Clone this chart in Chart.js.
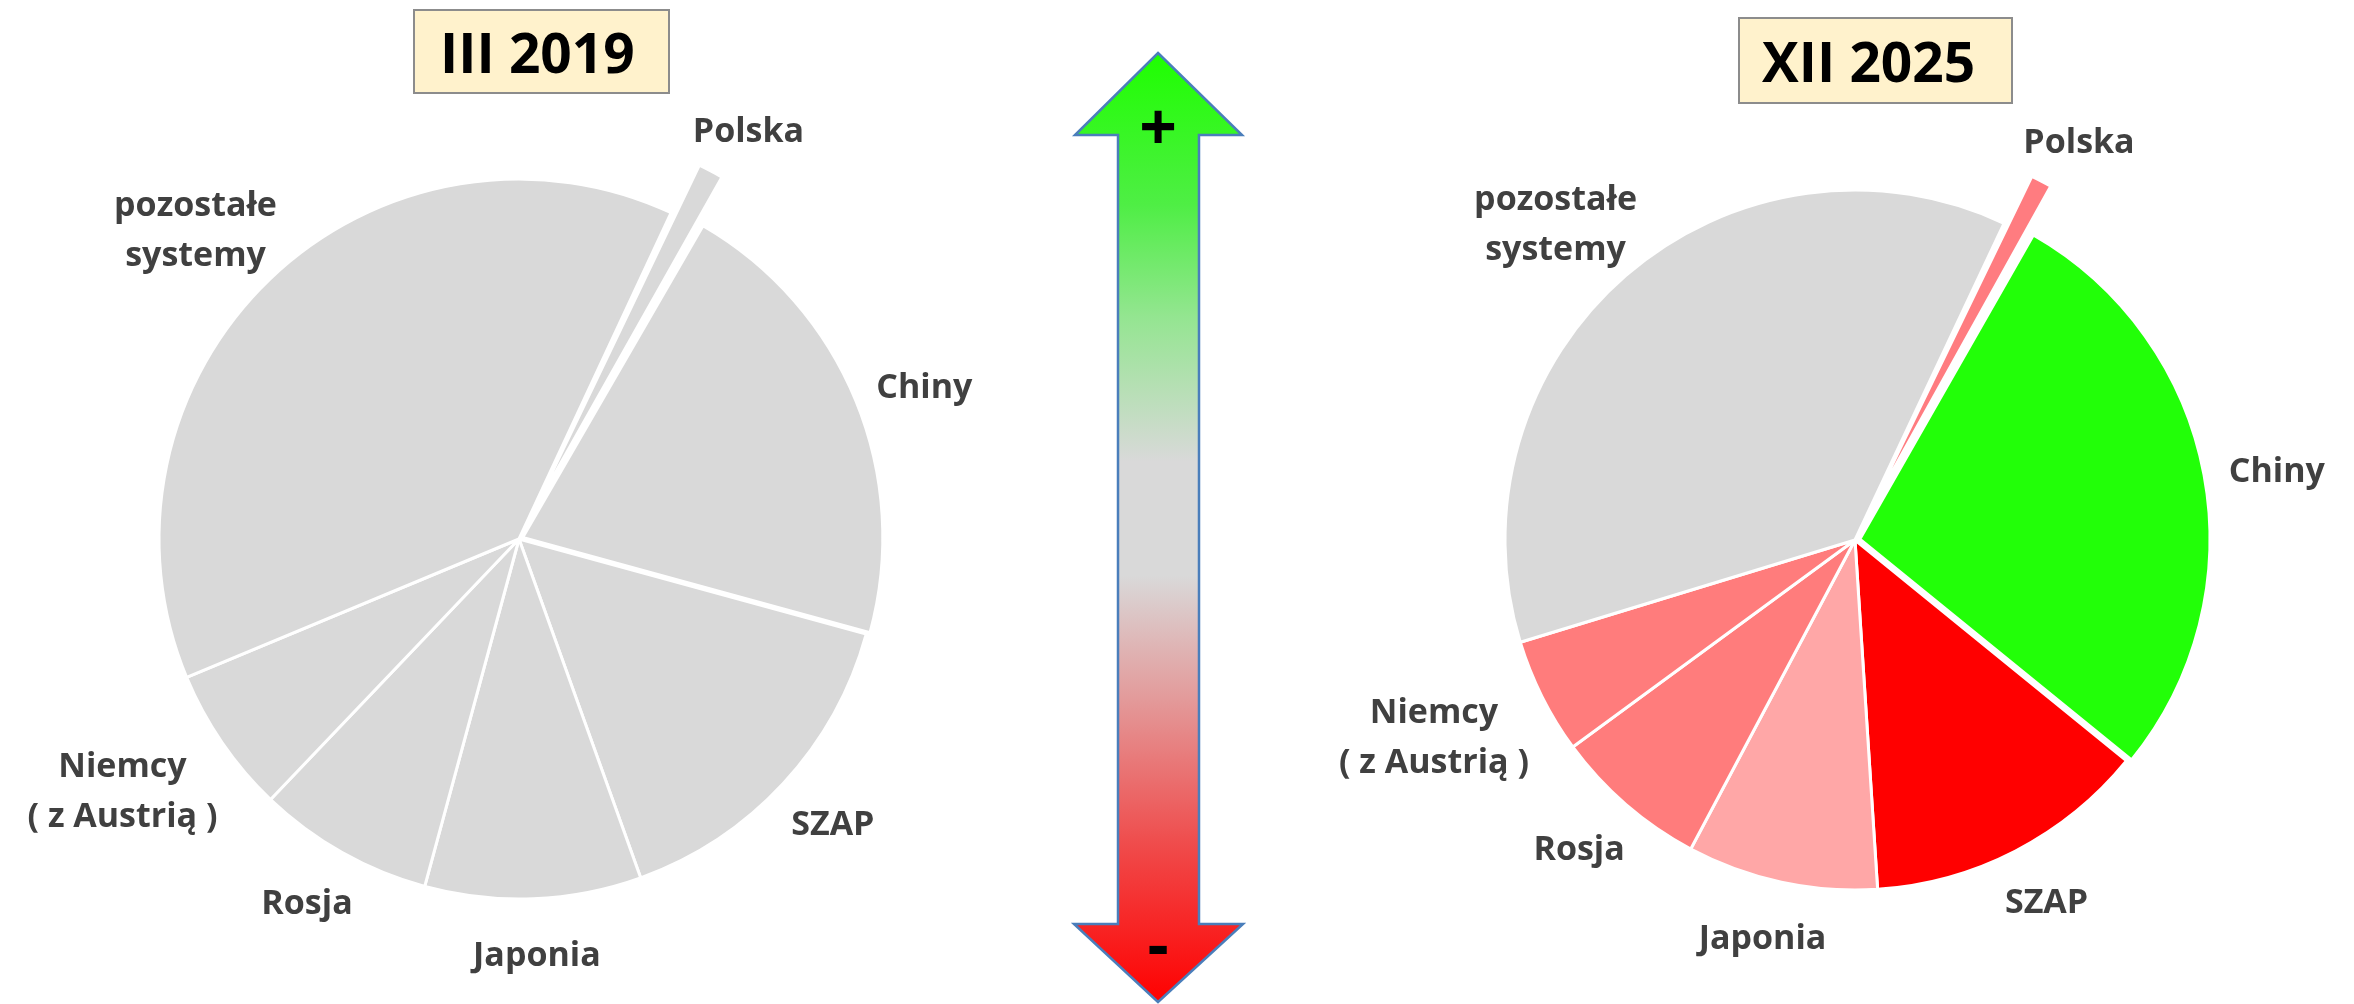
<!DOCTYPE html>
<html><head><meta charset="utf-8">
<script src="https://cdn.jsdelivr.net/npm/chart.js@4.4.1/dist/chart.umd.min.js"></script>
<style>
html,body{margin:0;padding:0;background:#fff;width:2354px;height:1004px;overflow:hidden;position:relative;font-family:'Open Sans',sans-serif;}
canvas{position:absolute;}
svg{position:absolute;left:0;top:0;}
.title{position:absolute;background:#FFF2CC;border:2px solid #8C8C8C;box-sizing:border-box;font-weight:700;color:#000;font-size:55px;line-height:1;display:flex;align-items:center;white-space:nowrap;}
</style></head>
<body>
<div class="title" id="t1" style="left:413px;top:9px;width:257px;height:85px;padding-left:25px;"></div>
<div class="title" id="t2" style="left:1738px;top:17px;width:275px;height:87px;padding-left:22px;"></div>
<svg width="2354" height="1004" viewBox="0 0 2354 1004">
  <defs>
    <linearGradient id="g" x1="0" y1="53" x2="0" y2="1003" gradientUnits="userSpaceOnUse">
      <stop offset="0" stop-color="#1EFF00"/>
      <stop offset="0.16" stop-color="#4FEE45"/>
      <stop offset="0.28" stop-color="#95E592"/>
      <stop offset="0.43" stop-color="#D9D9D9"/>
      <stop offset="0.55" stop-color="#D9D9D9"/>
      <stop offset="0.68" stop-color="#E39A9A"/>
      <stop offset="0.84" stop-color="#F04848"/>
      <stop offset="1" stop-color="#FF0000"/>
    </linearGradient>
  </defs>
  <polygon points="1158,53 1242,135 1199,135 1199,924 1243,924 1158,1002 1074,924 1118,924 1118,135 1075,135" fill="url(#g)" stroke="#4A7EBB" stroke-width="2.5" stroke-linejoin="miter"/>
  <text id="plus" x="1158" y="150" text-anchor="middle" font-family="Open Sans" font-weight="700" font-size="66" fill="#000"></text>
  <text id="minus" x="1158" y="968" text-anchor="middle" font-family="Open Sans" font-weight="700" font-size="66" fill="#000"></text>
</svg>
<canvas id="c1" width="1038" height="1004" style="left:0;top:0"></canvas>
<canvas id="c2" width="1170" height="1004" style="left:1270px;top:0"></canvas>
<script>
const titleLeft = 'III 2019';
const titleRight = 'XII 2025';
const arrowTop = '+';
const arrowBottom = '-';
const categories = ['Polska', 'Chiny', 'SZAP', 'Japonia', 'Rosja', ['Niemcy', '( z Austrią )'], ['pozostałe', 'systemy']];
const share2019 = [1.4, 20.9, 15.25, 9.7, 7.9, 6.6, 38.2];
const share2025 = [1.25, 27.6, 13.1, 8.8, 7.15, 5.35, 36.7];
const colors2019 = ['#D9D9D9', '#D9D9D9', '#D9D9D9', '#D9D9D9', '#D9D9D9', '#D9D9D9', '#D9D9D9'];
const colors2025 = ['#FF7C80', '#22FF08', '#FF0000', '#FFA7A7', '#FF7C7C', '#FF7C7C', '#D9D9D9'];
// Chart.js v4 arc offset option (exploded slices)
const explode2019 = [115, 16, 0, 0, 0, 0, 0];
const explode2025 = [113, 20, 0, 0, 0, 0, 0];

document.getElementById('t1').textContent = titleLeft;
document.getElementById('t2').textContent = titleRight;
document.getElementById('plus').textContent = arrowTop;
document.getElementById('minus').textContent = arrowBottom;

const outsideLabels = {
  id: 'outsideLabels',
  afterDatasetsDraw(chart, args, opts) {
    const ctx = chart.ctx;
    const meta = chart.getDatasetMeta(0);
    const ds = chart.data.datasets[0];
    ctx.save();
    ctx.font = `700 ${opts.size}px "Open Sans"`;
    ctx.fillStyle = opts.color;
    ctx.textAlign = 'center';
    ctx.textBaseline = 'middle';
    meta.data.forEach((arc, i) => {
      const p = arc.getProps(['x', 'y', 'startAngle', 'endAngle', 'outerRadius', 'circumference'], true);
      const mid = (p.startAngle + p.endAngle) / 2;
      const o4 = ((ds.offset && ds.offset[i]) || 0) / 4;
      const fix = 1 - Math.sin(Math.min(Math.PI, p.circumference || 0));
      const off = o4 * (1 + fix);
      let lines = chart.data.labels[i];
      if (!Array.isArray(lines)) lines = [lines];
      const w = Math.max(...lines.map(l => ctx.measureText(l).width));
      const h = lines.length * opts.lineHeight;
      const cx = Math.cos(mid), cy = Math.sin(mid);
      const r = p.outerRadius + off + opts.gap;
      const px = p.x + cx * r + cx * w / 2;
      const py = p.y + cy * r + cy * (h / 2) + opts.shiftY;
      lines.forEach((l, k) => ctx.fillText(l, px, py - h / 2 + opts.lineHeight * (k + 0.5)));
    });
    ctx.restore();
  }
};

function makePie(id, values, colors, explode, radius, rotation, padTop) {
  return new Chart(document.getElementById(id), {
    type: 'pie',
    data: {
      labels: categories,
      datasets: [{
        data: values,
        backgroundColor: colors,
        borderColor: '#FFFFFF',
        borderWidth: 3,
        offset: explode
      }]
    },
    options: {
      responsive: false,
      animation: false,
      rotation: rotation,
      radius: radius,
      layout: { padding: { top: padTop } },
      plugins: {
        legend: { display: false },
        tooltip: { enabled: false },
        outsideLabels: { size: 34, lineHeight: 50, gap: 26, shiftY: 7, color: '#404040' }
      }
    },
    plugins: [outsideLabels]
  });
}

makePie('c1', share2019, colors2019, explode2019, 360, 25, 74);
makePie('c2', share2025, colors2025, explode2025, 350, 25.2, 76);
</script>
</body></html>
